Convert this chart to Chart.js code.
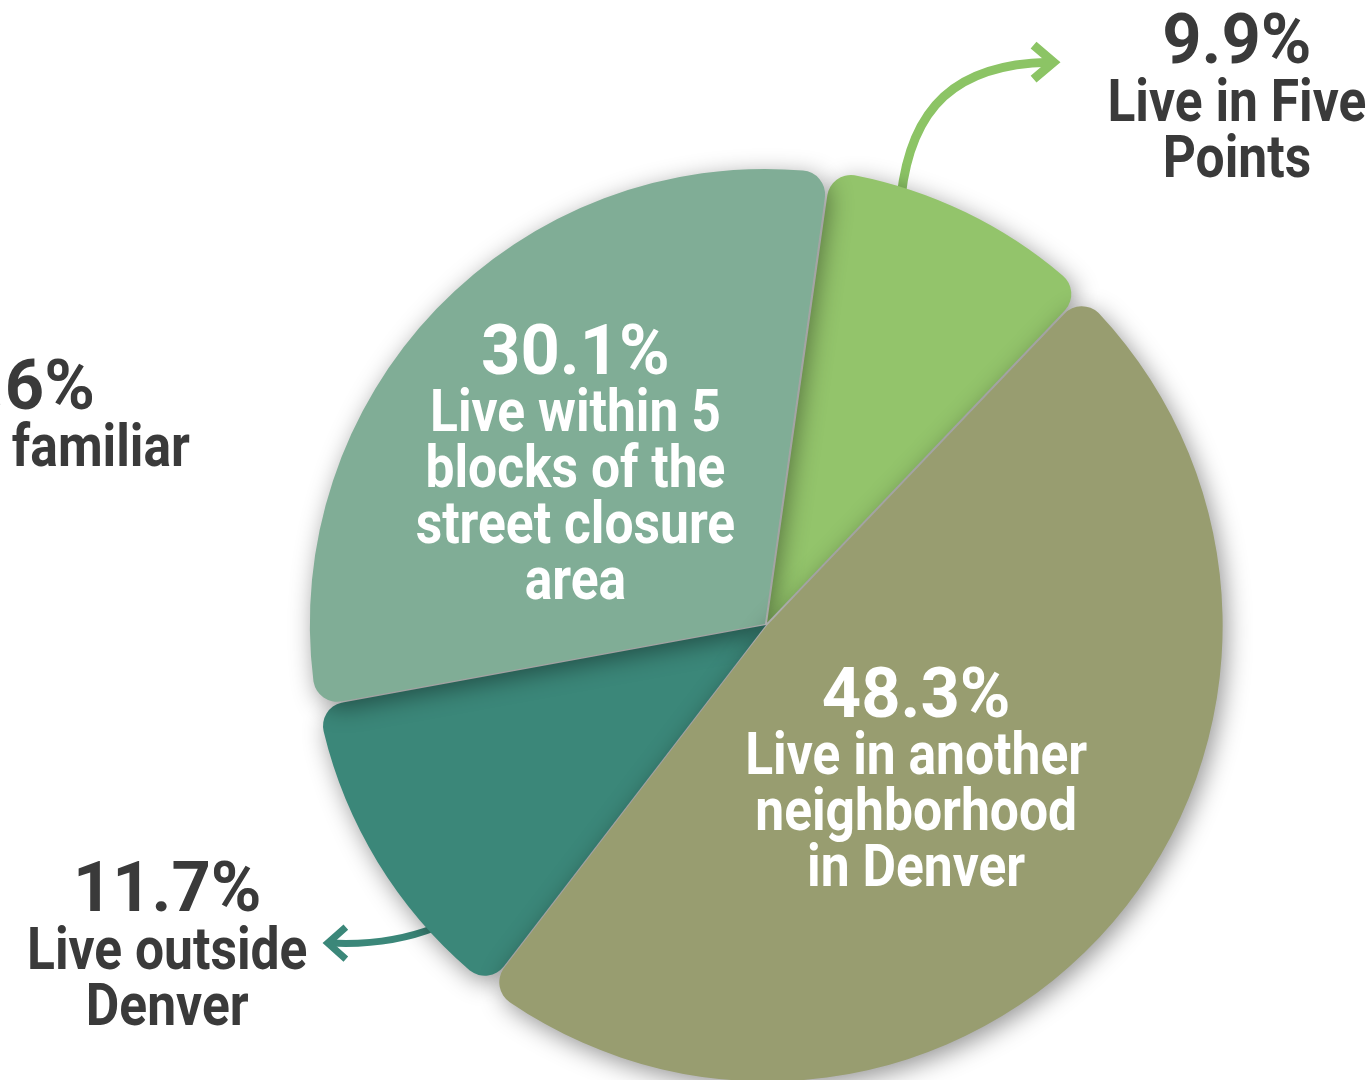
<!DOCTYPE html>
<html>
<head>
<meta charset="utf-8">
<script src="https://cdn.jsdelivr.net/npm/chart.js@4.4.1/dist/chart.umd.min.js"></script>
<style>
  html, body { margin: 0; padding: 0; background: #fff; overflow: hidden; }
  #wrap { position: absolute; left: 0; top: 0; width: 1371px; height: 1100px; }
</style>
</head>
<body>
<div id="wrap"><canvas id="pie" width="1371" height="1100"></canvas></div>
<script>
// data (clockwise from the top)
const categories = ['Live in Five Points', 'Live in another neighborhood in Denver', 'Live outside Denver', 'Live within 5 blocks of the street closure area']
const shares = [9.9, 48.3, 11.7, 30.1]
const sliceColors = ['#93c46b', '#989d70', '#3b8779', '#80ad96']
const sliceOffsets = [10, 4, 0, 6]
const labelLines = [
  ['Live in Five', 'Points'],
  ['Live in another', 'neighborhood', 'in Denver'],
  ['Live outside', 'Denver'],
  ['Live within 5', 'blocks of the', 'street closure', 'area']
]
// which slices get their label outside with an arrow
const outside = [true, false, true, false]
// paint order: olive sits on top of the others
const drawOrder = [0, 2, 3, 1]

const FONT = 'Roboto, "DejaVu Sans Condensed", sans-serif'
const HEAD = 'bold 70px ' + FONT
const BODY = 'bold 59px ' + FONT
const DARK = '#3a3a3a'
let SX = 1   // horizontal squeeze for the body lines, set once from a measured line

function pct(v) { return v.toFixed(1) + '%' }

function arcPoint(arc, angle, r) {
  return { x: arc.x + Math.cos(angle) * r, y: arc.y + Math.sin(angle) * r }
}

function squeezed(ctx, s, x, y, sx) {
  ctx.save()
  ctx.translate(x, y)
  ctx.scale(sx, 1)
  ctx.fillText(s, 0, 0)
  ctx.restore()
}

// y is the centre of the percentage line
function drawBlock(ctx, x, y, head, lines, color) {
  y += 6
  ctx.fillStyle = color
  ctx.textAlign = 'center'
  ctx.textBaseline = 'middle'
  ctx.font = HEAD
  squeezed(ctx, head, x, y, 0.98)
  ctx.font = BODY
  lines.forEach((l, i) => squeezed(ctx, l, x, y + 60 + i * 56, SX))
}

function chevron(ctx, x, y, dir, w, h) {
  ctx.beginPath()
  ctx.moveTo(x - dir * w, y - h)
  ctx.lineTo(x, y)
  ctx.lineTo(x - dir * w, y + h)
  ctx.stroke()
}

const layered = {
  id: 'layered',
  beforeDatasetsDraw(chart) {
    const ctx = chart.ctx
    ctx.font = BODY
    SX = 342 / ctx.measureText('Live in another').width

    // arrows go under the slices so their tails hide behind them
    const arcs = chart.getDatasetMeta(0).data
    const R = arcs[0].outerRadius
    ctx.save()
    ctx.lineCap = 'butt'
    ctx.lineJoin = 'miter'

    // five points arrow
    let a = arcs[0]
    let s = arcPoint(a, -Math.PI / 2 + 17.5 * Math.PI / 180, R - 6)
    let e = { x: a.x + 0.632 * R, y: a.y - 1.237 * R }
    ctx.strokeStyle = '#8cc465'
    ctx.lineWidth = 9
    ctx.beginPath()
    ctx.moveTo(s.x, s.y)
    ctx.bezierCurveTo(s.x + 10, s.y - 90, s.x + 55, e.y + 2, e.x - 5, e.y)
    ctx.stroke()
    chevron(ctx, e.x, e.y, 1, 20, 17)

    // outside denver arrow
    a = arcs[2]
    s = arcPoint(a, -Math.PI / 2 + 227.5 * Math.PI / 180, R - 8)
    e = { x: a.x - 0.963 * R, y: a.y + 0.699 * R }
    ctx.strokeStyle = '#3b8779'
    ctx.lineWidth = 7
    ctx.beginPath()
    ctx.moveTo(s.x, s.y)
    ctx.bezierCurveTo(s.x - 30, s.y + 12, e.x + 45, e.y + 2, e.x + 3, e.y)
    ctx.stroke()
    chevron(ctx, e.x, e.y, -1, 18, 16)
    ctx.restore()
  },
  beforeDatasetDraw(chart, args) {
    const ctx = chart.ctx
    const arcs = chart.getDatasetMeta(args.index).data
    ctx.save()
    ctx.shadowColor = 'rgba(0,0,0,0.42)'
    ctx.shadowBlur = 24
    ctx.shadowOffsetX = 4
    ctx.shadowOffsetY = 6
    drawOrder.forEach(i => arcs[i].draw(ctx))
    ctx.restore()
    return false
  },
  afterDatasetsDraw(chart) {
    const ctx = chart.ctx
    const arcs = chart.getDatasetMeta(0).data
    const R = arcs[0].outerRadius
    const nudge = [null, [-14, 14], null, [-11, 12]]
    const reach = [0, 0.475, 0, 0.547]
    ctx.save()
    arcs.forEach((arc, i) => {
      if (outside[i]) return
      const mid = (arc.startAngle + arc.endAngle) / 2
      const p = arcPoint(arc, mid, R * reach[i])
      const n = labelLines[i].length
      const h = 60 + (n - 1) * 56
      drawBlock(ctx, p.x + nudge[i][0], p.y + nudge[i][1] - h / 2, pct(shares[i]), labelLines[i], '#ffffff')
    })
    // outside labels
    const c = arcs[0]
    drawBlock(ctx, c.x + 1.035 * R, c.y - 1.286 * R, pct(shares[0]), labelLines[0], DARK)
    drawBlock(ctx, c.x - 1.316 * R, c.y + 0.578 * R, pct(shares[2]), labelLines[2], DARK)

    // label of a neighbouring panel, cut by the left edge
    ctx.fillStyle = DARK
    ctx.textAlign = 'right'
    ctx.textBaseline = 'middle'
    ctx.font = HEAD
    squeezed(ctx, '15.6%', c.x - 1.475 * R, c.y - 0.527 * R + 6, 0.98)
    ctx.font = BODY
    squeezed(ctx, 'Not familiar', c.x - 1.266 * R, c.y - 0.396 * R + 6, SX)
    ctx.restore()
  }
}

new Chart(document.querySelector('#pie'), {
  type: 'pie',
  data: {
    labels: categories,
    datasets: [{
      data: shares,
      backgroundColor: sliceColors,
      offset: sliceOffsets,
      borderWidth: 0,
      borderRadius: 24
    }]
  },
  options: {
    responsive: false,
    animation: false,
    rotation: 8,
    layout: { padding: { left: 306, right: 145, top: 165, bottom: 15 } },
    plugins: {
      legend: { display: false },
      tooltip: { enabled: false }
    }
  },
  plugins: [layered]
})
</script>
</body>
</html>
